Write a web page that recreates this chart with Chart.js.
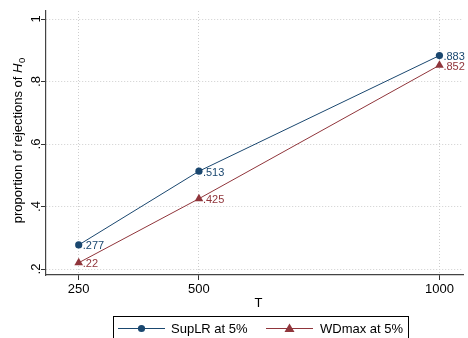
<!DOCTYPE html>
<html>
<head>
<meta charset="utf-8">
<script src="https://cdn.jsdelivr.net/npm/chart.js@4"></script>
<style>
html,body{margin:0;padding:0;background:#fff;}
#wrap{width:468px;height:338px;position:relative;}
</style>
</head>
<body>
<div id="wrap"><canvas id="c" width="468" height="338"></canvas></div>
<script>
const T = [250, 500, 1000];
const supLR = [0.277, 0.513, 0.883];
const wdMax = [0.22, 0.425, 0.852];
const supLRLabels = ['.277', '.513', '.883'];
const wdMaxLabels = ['.22', '.425', '.852'];
const xTicks = [250, 500, 1000];
const yTicks = [0.2, 0.4, 0.6, 0.8, 1];
const yTickLabels = ['.2', '.4', '.6', '.8', '1'];
const seriesNames = ['SupLR at 5%', 'WDmax at 5%'];

const BLUE = '#1a476f';
const RED = '#90353b';
const FONT = '"Liberation Sans", Arial, Helvetica, sans-serif';

const overlay = {
  id: 'overlay',
  afterDraw(chart) {
    const ctx = chart.ctx;
    const xs = chart.scales.x, ys = chart.scales.y;
    const ca = chart.chartArea;
    ctx.save();
    // y tick labels (rotated)
    ctx.fillStyle = '#000';
    ctx.font = '13px ' + FONT;
    yTicks.forEach((v, i) => {
      const py = ys.getPixelForValue(v);
      ctx.save();
      ctx.translate(ca.left - 6.5, py);
      ctx.rotate(-Math.PI / 2);
      ctx.textAlign = 'center';
      ctx.textBaseline = 'alphabetic';
      ctx.fillText(yTickLabels[i], 0, 0);
      ctx.restore();
    });
    // y title
    {
      const cy = (ca.top + ca.bottom) / 2 - 2.5;
      const f1 = '13px ' + FONT, f2 = 'italic 13px ' + FONT, f3 = '9.5px ' + FONT;
      const p1 = 'proportion of rejections of ', p2 = 'H', p3 = '0';
      ctx.font = f1; const w1 = ctx.measureText(p1).width;
      ctx.font = f2; const w2 = ctx.measureText(p2).width;
      ctx.font = f3; const w3 = ctx.measureText(p3).width;
      const tw = w1 + w2 + w3 + 0.5;
      ctx.save();
      ctx.translate(21.5, cy);
      ctx.rotate(-Math.PI / 2);
      ctx.textAlign = 'left';
      ctx.textBaseline = 'alphabetic';
      let u = -tw / 2;
      ctx.font = f1; ctx.fillText(p1, u, 0); u += w1;
      ctx.font = f2; ctx.fillText(p2, u, 0); u += w2 + 0.5;
      ctx.font = f3; ctx.fillText(p3, u, 3);
      ctx.restore();
    }
    // x title
    ctx.font = '13px ' + FONT;
    ctx.textAlign = 'center';
    ctx.textBaseline = 'alphabetic';
    ctx.fillStyle = '#000';
    ctx.fillText('T', (ca.left + ca.right) / 2 + 4, 307);
    // data labels
    ctx.font = '11px ' + FONT;
    ctx.textAlign = 'left';
    ctx.textBaseline = 'middle';
    const labelSets = [[supLR, supLRLabels, BLUE], [wdMax, wdMaxLabels, RED]];
    labelSets.forEach(([vals, labs, col]) => {
      ctx.fillStyle = col;
      vals.forEach((v, i) => {
        const px = xs.getPixelForValue(T[i]);
        const py = ys.getPixelForValue(v);
        ctx.fillText(labs[i], px + 4, py + 1.5);
      });
    });
    // legend
    ctx.strokeStyle = '#000';
    ctx.lineWidth = 1;
    ctx.strokeRect(113.5, 316.5, 295, 30);
    const ly = 328.5;
    // entry 1
    ctx.strokeStyle = BLUE; ctx.lineWidth = 1;
    ctx.beginPath(); ctx.moveTo(118, ly); ctx.lineTo(165, ly); ctx.stroke();
    ctx.fillStyle = BLUE;
    ctx.beginPath(); ctx.arc(141.5, ly, 3.6, 0, Math.PI * 2); ctx.fill();
    ctx.fillStyle = '#000';
    ctx.font = '13px ' + FONT;
    ctx.textBaseline = 'middle';
    ctx.textAlign = 'left';
    ctx.fillText(seriesNames[0], 171, ly + 0.5);
    // entry 2
    ctx.strokeStyle = RED;
    ctx.beginPath(); ctx.moveTo(266, ly); ctx.lineTo(313, ly); ctx.stroke();
    ctx.fillStyle = RED;
    ctx.beginPath();
    ctx.moveTo(289.5, ly - 5); ctx.lineTo(294.5, ly + 3.5); ctx.lineTo(284.5, ly + 3.5); ctx.closePath(); ctx.fill();
    ctx.fillStyle = '#000';
    ctx.fillText(seriesNames[1], 320, ly + 0.5);
    ctx.restore();
  }
};

new Chart(document.getElementById('c'), {
  type: 'scatter',
  data: {
    datasets: [
      {
        label: seriesNames[0],
        data: T.map((t, i) => ({x: t, y: supLR[i]})),
        showLine: true,
        borderColor: BLUE,
        backgroundColor: BLUE,
        borderWidth: 1,
        pointStyle: 'circle',
        pointRadius: 3.6,
        pointBorderWidth: 0,
        order: 1
      },
      {
        label: seriesNames[1],
        data: T.map((t, i) => ({x: t, y: wdMax[i]})),
        showLine: true,
        borderColor: RED,
        backgroundColor: RED,
        borderWidth: 1,
        pointStyle: 'triangle',
        pointRadius: 5,
        pointBorderWidth: 0,
        order: 2
      }
    ]
  },
  options: {
    responsive: false,
    animation: false,
    devicePixelRatio: 1,
    layout: {padding: {left: 0, right: 2, top: 11, bottom: 0}},
    plugins: {legend: {display: false}, tooltip: {enabled: false}},
    scales: {
      x: {
        type: 'linear',
        min: 182,
        max: 1049,
        afterBuildTicks: s => { s.ticks = xTicks.map(v => ({value: v})); },
        afterFit: s => { s.height = 63; },
        ticks: {
          color: '#000',
          font: {family: FONT, size: 13},
          padding: 2,
          maxRotation: 0,
          callback: v => String(v)
        },
        grid: {
          color: '#cfcfcf',
          lineWidth: 1,
          tickLength: 5,
          tickColor: '#333',
          tickWidth: 1
        },
        border: {display: true, color: '#444', width: 1.2, dash: [1, 2]}
      },
      y: {
        type: 'linear',
        min: 0.1808,
        max: 1.0256,
        afterBuildTicks: s => { s.ticks = yTicks.map(v => ({value: v})); },
        afterFit: s => { s.width = 46; },
        ticks: {display: false},
        grid: {
          color: '#cfcfcf',
          lineWidth: 1,
          tickLength: 5,
          tickColor: '#333',
          tickWidth: 1
        },
        border: {display: true, color: '#444', width: 1.2, dash: [1, 2]}
      }
    }
  },
  plugins: [overlay]
});
</script>
</body>
</html>
